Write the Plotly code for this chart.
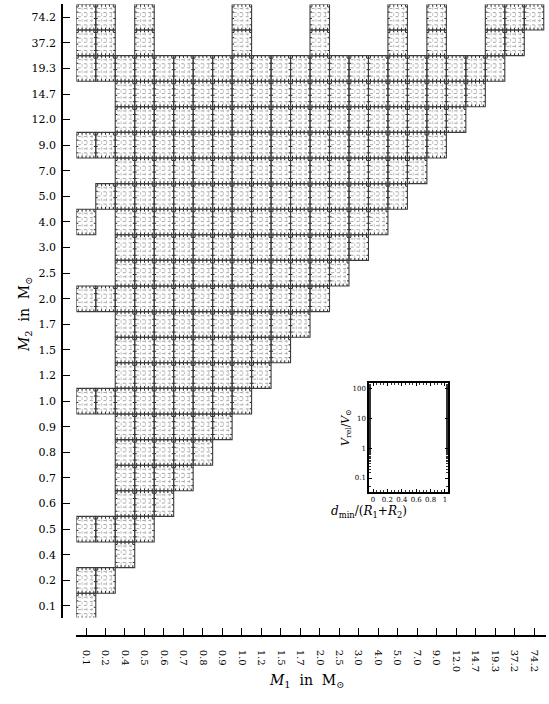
import plotly.graph_objects as go

# ---------------- data ----------------
M_LABELS = ["0.1", "0.2", "0.4", "0.5", "0.6", "0.7", "0.8", "0.9", "1.0", "1.2",
            "1.5", "1.7", "2.0", "2.5", "3.0", "4.0", "5.0", "7.0", "9.0", "12.0",
            "14.7", "19.3", "37.2", "74.2"]

# main triangular block: for each M2 row, M1 columns run from TRI_FIRST_COL up to the row value
TRI_FIRST_COL = "0.4"
TRI_ROWS = ["0.4", "0.5", "0.6", "0.7", "0.8", "0.9", "1.0", "1.2", "1.5", "1.7",
            "2.0", "2.5", "3.0", "4.0", "5.0", "7.0", "9.0", "12.0", "14.7", "19.3"]

# isolated cells outside the main block (M1, M2)
EXTRA_M1 = ["0.1", "0.2", "0.1", "0.2", "0.1", "0.2",
            "0.5", "0.5", "1.0", "1.0", "2.0", "2.0", "5.0", "5.0", "9.0", "9.0",
            "19.3", "37.2", "74.2", "19.3", "37.2",
            "0.1", "0.2", "0.2", "0.1", "0.1", "0.2", "0.1", "0.2", "0.1", "0.2",
            "0.1", "0.2", "0.1"]
EXTRA_M2 = ["74.2", "74.2", "37.2", "37.2", "19.3", "19.3",
            "74.2", "37.2", "74.2", "37.2", "74.2", "37.2", "74.2", "37.2", "74.2", "37.2",
            "74.2", "74.2", "74.2", "37.2", "37.2",
            "9.0", "9.0", "5.0", "4.0", "2.0", "2.0", "1.0", "1.0", "0.5", "0.5",
            "0.2", "0.2", "0.1"]

INSET_X_TICKS = [0, 0.2, 0.4, 0.6, 0.8, 1]
INSET_X_TEXT = ["0", "0.2", "0.4", "0.6", "0.8", "1"]
INSET_Y_TICKS = [0.1, 1, 10, 100]
INSET_Y_TEXT = ["0.1", "1", "10", "100"]

# ---------------- build cells ----------------
idx = {lab: i for i, lab in enumerate(M_LABELS)}
cells = []
for r in TRI_ROWS:
    ri = idx[r]
    for c in M_LABELS[idx[TRI_FIRST_COL]:ri + 1]:
        cells.append((idx[c], ri))
for a, b in zip(EXTRA_M1, EXTRA_M2):
    cells.append((idx[a], idx[b]))

H = 0.5
bx, by = [], []
hx, hy = [], []
vx, vy = [], []
tx, ty = [], []
for (ci, ri) in cells:
    x0, x1, y0, y1 = ci - H, ci + H, ri - H, ri + H
    bx += [x0, x1, x1, x0, x0, None]
    by += [y0, y0, y1, y1, y0, None]
    for f in (0.2, 0.36, 0.52, 0.68, 0.84):
        hx += [x0 + 0.08, x1 - 0.08, None]
        hy += [y0 + f, y0 + f, None]
    for f in (0.3, 0.55, 0.8):
        vx += [x0 + f, x0 + f, None]
        vy += [y0 + 0.08, y1 - 0.08, None]
    for f in (0.1, 0.3, 0.5, 0.7, 0.9):
        tx += [x0 + f, x0 + f, None, x0 + f, x0 + f, None]
        ty += [y0, y0 + 0.09, None, y1, y1 - 0.09, None]
    for f in (0.2, 0.45, 0.7, 0.9):
        tx += [x0, x0 + 0.1, None, x1, x1 - 0.1, None]
        ty += [y0 + f, y0 + f, None, y0 + f, y0 + f, None]

fig = go.Figure()
fig.add_trace(go.Scatter(x=vx, y=vy, mode="lines", hoverinfo="skip",
                         line=dict(color="#c4c4c4", width=1, dash="dot")))
fig.add_trace(go.Scatter(x=hx, y=hy, mode="lines", hoverinfo="skip",
                         line=dict(color="#aaaaaa", width=1, dash="dot")))
fig.add_trace(go.Scatter(x=tx, y=ty, mode="lines", hoverinfo="skip",
                         line=dict(color="#222", width=1)))
fig.add_trace(go.Scatter(x=bx, y=by, mode="lines", hoverinfo="skip",
                         line=dict(color="#3a3a3a", width=1.1)))
fig.add_trace(go.Scatter(x=[None], y=[None], xaxis="x2", yaxis="y2", mode="lines"))

W, HT = 549, 704
serif = "DejaVu Serif"

fig.update_layout(
    width=W, height=HT, margin=dict(l=0, r=0, t=0, b=0),
    paper_bgcolor="white", plot_bgcolor="white", showlegend=False,
    xaxis=dict(domain=[76.3 / W, 545.7 / W], range=[-0.5, 23.6],
               tickvals=list(range(len(M_LABELS))), ticktext=M_LABELS,
               tickangle=90, ticks="inside", ticklen=7, tickcolor="black",
               showline=True, linecolor="black", linewidth=1.5,
               anchor="free", position=1 - 636 / HT, showgrid=False, zeroline=False,
               ticklabelstandoff=11,
               tickfont=dict(family=serif, size=10, color="black")),
    yaxis=dict(domain=[1 - 617.5 / HT, 1 - 4.4 / HT], range=[-0.45, 23.5],
               tickvals=list(range(len(M_LABELS))), ticktext=M_LABELS,
               ticks="inside", ticklen=7, tickcolor="black",
               showline=True, linecolor="black", linewidth=1.5,
               anchor="free", position=62 / W, showgrid=False, zeroline=False,
               ticklabelstandoff=3,
               tickfont=dict(family=serif, size=11, color="black")),
    xaxis2=dict(domain=[369 / W, 448 / W], range=[-0.056, 1.042], anchor="y2",
                tickvals=INSET_X_TICKS, ticktext=INSET_X_TEXT,
                ticks="inside", ticklen=3, tickcolor="black", mirror="allticks",
                showline=True, linecolor="black", linewidth=1.5,
                showgrid=False, zeroline=False,
                minor=dict(ticks="inside", ticklen=2, dtick=0.05, tickcolor="#333"),
                tickfont=dict(family=serif, size=7, color="black")),
    yaxis2=dict(domain=[1 - 492 / HT, 1 - 383 / HT], type="log", range=[-1.47, 2.2],
                anchor="x2", tickvals=INSET_Y_TICKS, ticktext=INSET_Y_TEXT,
                ticks="inside", ticklen=3, tickcolor="black", mirror="ticks",
                showline=True, linecolor="black", linewidth=1.5,
                showgrid=False, zeroline=False,
                minor=dict(ticks="inside", ticklen=2, tickcolor="#333"),
                tickfont=dict(family=serif, size=7, color="black")),
    annotations=[
        dict(text="<i>M</i><sub>1</sub>  in  M<sub>⊙</sub>", xref="paper", yref="paper",
             x=306 / W, y=1 - 692 / HT, showarrow=False,
             font=dict(family=serif, size=14, color="black")),
        dict(text="<i>M</i><sub>2</sub>  in  M<sub>⊙</sub>", xref="paper", yref="paper",
             x=14 / W, y=1 - 315 / HT, showarrow=False, textangle=-90,
             font=dict(family=serif, size=14, color="black")),
        dict(text="<i>d</i><sub>min</sub>/(<i>R</i><sub>1</sub>+<i>R</i><sub>2</sub>)",
             xref="paper", yref="paper", x=409 / W, y=1 - 502 / HT, yanchor="top",
             showarrow=False, font=dict(family=serif, size=12, color="black")),
        dict(text="<i>V</i><sub>rel</sub>/<i>V</i><sub>⊙</sub>",
             xref="paper", yref="paper", x=346 / W, y=1 - 428 / HT, showarrow=False,
             textangle=-90, font=dict(family=serif, size=11, color="black")),
    ],
)

fig.write_html("out.html", config={"displayModeBar": False},
               post_script="document.body.style.margin='0';")
